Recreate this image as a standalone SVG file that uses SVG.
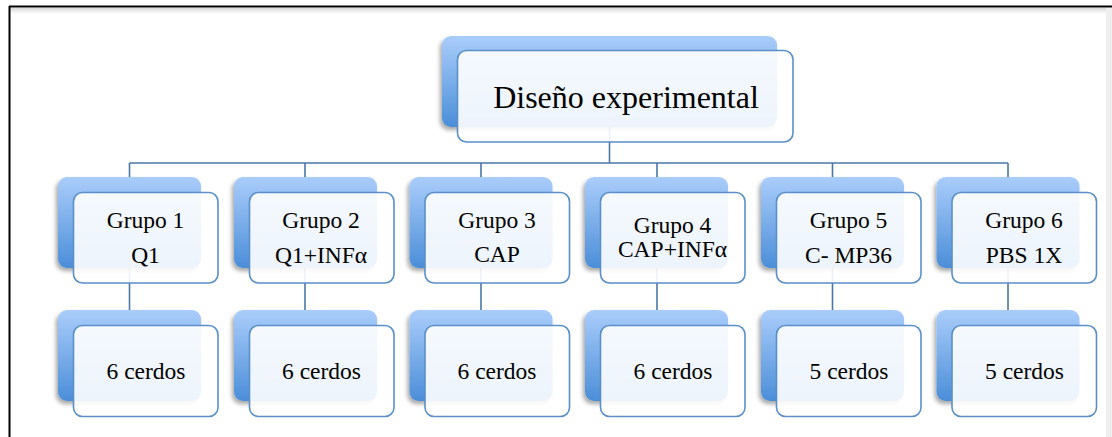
<svg xmlns="http://www.w3.org/2000/svg" width="1112" height="437" viewBox="0 0 1112 437">
<defs>
<linearGradient id="backGrad" x1="0" y1="0" x2="0" y2="1">
<stop offset="0" stop-color="#aacdfb"/>
<stop offset="1" stop-color="#4b8ed8"/>
</linearGradient>
<linearGradient id="topShade" x1="0" y1="0" x2="0" y2="1">
<stop offset="0" stop-color="#d8d8d8"/>
<stop offset="1" stop-color="#ffffff"/>
</linearGradient>
<filter id="sh" x="-20%" y="-20%" width="140%" height="150%">
<feDropShadow dx="-2" dy="3" stdDeviation="2" flood-color="#000" flood-opacity="0.35"/>
</filter>
</defs>
<style>
.back{fill:url(#backGrad);filter:url(#sh)}
.front{fill:#ffffff;fill-opacity:0.9;stroke:#5b8fc8;stroke-width:1.6}
.conn{stroke:#4a77a9;stroke-width:1.6;fill:none}
text{font-family:'Liberation Serif','DejaVu Serif',serif;fill:#000;text-anchor:middle}
.t{font-size:23.5px}
.title{font-size:32px}
</style>
<rect x="0" y="0" width="1112" height="437" fill="#ffffff"/>
<rect x="10" y="8" width="1100" height="6" fill="url(#topShade)"/>
<rect x="1106" y="8" width="6" height="429" fill="#efefef"/>
<line x1="9" y1="6.5" x2="1112" y2="6.5" stroke="#000" stroke-width="2"/>
<line x1="9.5" y1="6" x2="9.5" y2="437" stroke="#000" stroke-width="2"/>

<g id="connectors">
<line class="conn" x1="609.5" y1="127" x2="609.5" y2="163"/>
<line class="conn" x1="129.5" y1="163" x2="1008" y2="163"/>
<line class="conn" x1="129.5" y1="163" x2="129.5" y2="177"/>
<line class="conn" x1="305" y1="163" x2="305" y2="177"/>
<line class="conn" x1="481" y1="163" x2="481" y2="177"/>
<line class="conn" x1="657" y1="163" x2="657" y2="177"/>
<line class="conn" x1="832.5" y1="163" x2="832.5" y2="177"/>
<line class="conn" x1="1008" y1="163" x2="1008" y2="177"/>
<line class="conn" x1="129.5" y1="268" x2="129.5" y2="310"/>
<line class="conn" x1="305" y1="268" x2="305" y2="310"/>
<line class="conn" x1="481" y1="268" x2="481" y2="310"/>
<line class="conn" x1="657" y1="268" x2="657" y2="310"/>
<line class="conn" x1="832.5" y1="268" x2="832.5" y2="310"/>
<line class="conn" x1="1008" y1="268" x2="1008" y2="310"/>
</g>

<g id="root">
<rect class="back" x="442" y="36" width="335" height="91" rx="9"/>
<rect class="front" x="457.5" y="50.5" width="335.5" height="91.5" rx="9"/>
<text class="title" x="626" y="108" font-family="Liberation Serif, serif">Diseño experimental</text>
</g>

<g id="grupo1">
<rect class="back" x="58" y="177" width="143" height="91" rx="9"/>
<rect class="front" x="73.5" y="192.5" width="144.5" height="90.5" rx="9"/>
<text class="t" x="145.5" y="228">Grupo 1</text>
<text class="t" x="145.5" y="263">Q1</text>
</g>
<g id="grupo2">
<rect class="back" x="234" y="177" width="143" height="91" rx="9"/>
<rect class="front" x="249.5" y="192.5" width="144.5" height="90.5" rx="9"/>
<text class="t" x="321" y="228">Grupo 2</text>
<text class="t" x="321" y="263">Q1+INFα</text>
</g>
<g id="grupo3">
<rect class="back" x="409.5" y="177" width="143" height="91" rx="9"/>
<rect class="front" x="425" y="192.5" width="144.5" height="90.5" rx="9"/>
<text class="t" x="497" y="228">Grupo 3</text>
<text class="t" x="497" y="262">CAP</text>
</g>
<g id="grupo4">
<rect class="back" x="585" y="177" width="143" height="91" rx="9"/>
<rect class="front" x="600.5" y="192.5" width="144.5" height="90.5" rx="9"/>
<text class="t" x="672.5" y="233">Grupo 4</text>
<text class="t" x="672.5" y="257">CAP+INFα</text>
</g>
<g id="grupo5">
<rect class="back" x="761" y="177" width="143" height="91" rx="9"/>
<rect class="front" x="776.5" y="192.5" width="144.5" height="90.5" rx="9"/>
<text class="t" x="848.5" y="228">Grupo 5</text>
<text class="t" x="848.5" y="263">C- MP36</text>
</g>
<g id="grupo6">
<rect class="back" x="936.5" y="177" width="143" height="91" rx="9"/>
<rect class="front" x="952" y="192.5" width="144.5" height="90.5" rx="9"/>
<text class="t" x="1024" y="228">Grupo 6</text>
<text class="t" x="1024" y="263">PBS 1X</text>
</g>

<g id="cerdos1">
<rect class="back" x="58" y="310" width="143" height="91" rx="9"/>
<rect class="front" x="73.5" y="325.5" width="144.5" height="91" rx="9"/>
<text class="t" x="146" y="379">6 cerdos</text>
</g>
<g id="cerdos2">
<rect class="back" x="234" y="310" width="143" height="91" rx="9"/>
<rect class="front" x="249.5" y="325.5" width="144.5" height="91" rx="9"/>
<text class="t" x="321.5" y="379">6 cerdos</text>
</g>
<g id="cerdos3">
<rect class="back" x="409.5" y="310" width="143" height="91" rx="9"/>
<rect class="front" x="425" y="325.5" width="144.5" height="91" rx="9"/>
<text class="t" x="497" y="379">6 cerdos</text>
</g>
<g id="cerdos4">
<rect class="back" x="585" y="310" width="143" height="91" rx="9"/>
<rect class="front" x="600.5" y="325.5" width="144.5" height="91" rx="9"/>
<text class="t" x="673" y="379">6 cerdos</text>
</g>
<g id="cerdos5">
<rect class="back" x="761" y="310" width="143" height="91" rx="9"/>
<rect class="front" x="776.5" y="325.5" width="144.5" height="91" rx="9"/>
<text class="t" x="849" y="379">5 cerdos</text>
</g>
<g id="cerdos6">
<rect class="back" x="936.5" y="310" width="143" height="91" rx="9"/>
<rect class="front" x="952" y="325.5" width="144.5" height="91" rx="9"/>
<text class="t" x="1024.5" y="379">5 cerdos</text>
</g>
</svg>
